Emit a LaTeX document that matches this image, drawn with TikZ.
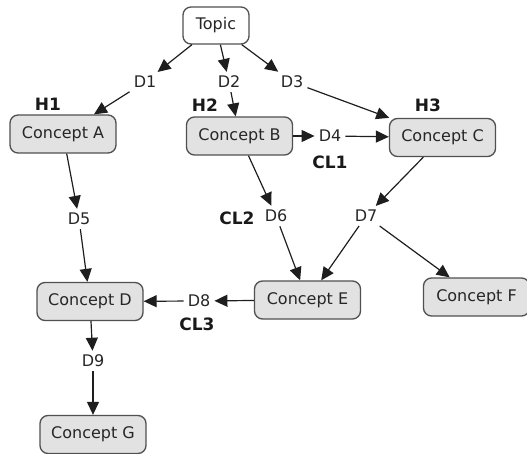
\documentclass[tikz,border=0pt]{standalone}
\usepackage{fontspec}
\setmainfont{DejaVu Sans}
\usetikzlibrary{arrows.meta}
\definecolor{boxfill}{HTML}{E2E2E2}
\definecolor{boxline}{HTML}{505050}
\definecolor{ink}{HTML}{1E1E1E}
\begin{document}
\begin{tikzpicture}[x=1pt,y=-1pt,
  concept/.style={draw=boxline,line width=1.3pt,fill=boxfill,rounded corners=8pt,
    minimum width=106pt,minimum height=38pt,inner sep=2pt,
    font=\fontsize{16}{18}\selectfont,text=black!85},
  topicbox/.style={concept,fill=white,minimum width=66pt,minimum height=37pt},
  link/.style={inner sep=4pt,font=\fontsize{16}{18}\selectfont,text=black!85},
  tag/.style={inner sep=1pt,font=\fontsize{17}{19}\selectfont\bfseries,text=black!90},
  arr/.style={draw=ink,line width=1.2pt,-{Triangle[length=13pt,width=12pt]}}
]
\useasboundingbox (0,0) rectangle (527,454);

% concepts
\node[topicbox] (topic) at (216,25.5) {Topic};
\node[concept] (A) at (63,134) {Concept A};
\node[concept] (B) at (239.5,136) {Concept B};
\node[concept] (C) at (442.5,137.5) {Concept C};
\node[concept] (D) at (90,301.5) {Concept D};
\node[concept] (E) at (307.5,300) {Concept E};
\node[concept] (F) at (476.5,297) {Concept F};
\node[concept] (G) at (93,434.5) {Concept G};

% link phrases
\node[link] (d1) at (145,82) {D1};
\node[link] (d2) at (229,82) {D2};
\node[link] (d3) at (292,82) {D3};
\node[link] (d4) at (330,136) {D4};
\node[link] (d5) at (79,219) {D5};
\node[link] (d6) at (276,216) {D6};
\node[link] (d7) at (366,216) {D7};
\node[link] (d8) at (199,301) {D8};
\node[link] (d9) at (93,361) {D9};

% bold tags
\node[tag] (h1) at (48,104) {H1};
\node[tag] (h2) at (205,105) {H2};
\node[tag] (h3) at (428,105) {H3};
\node[tag] (cl1) at (330,162) {CL1};
\node[tag] (cl2) at (237,218) {CL2};
\node[tag] (cl3) at (197,324) {CL3};

% connectors
\draw[arr] (topic) -- (d1);
\draw[arr] (d1) -- (A);
\draw[arr] (topic) -- (d2);
\draw[arr] (d2) -- (B);
\draw[arr] (topic) -- (d3);
\draw[arr] (d3) -- (C);
\draw[arr] (B) -- (d4);
\draw[arr] (d4) -- (C);
\draw[arr] (A) -- (d5);
\draw[arr] (d5) -- (D);
\draw[arr] (B) -- (d6);
\draw[arr] (d6) -- (E);
\draw[arr] (C) -- (d7);
\draw[arr] (d7) -- (E);
\draw[arr] (d7) -- (F);
\draw[arr] (E) -- (d8);
\draw[arr] (d8) -- (D);
\draw[arr] (D) -- (d9);
\draw[arr] (d9) -- (G);
\end{tikzpicture}
\end{document}
